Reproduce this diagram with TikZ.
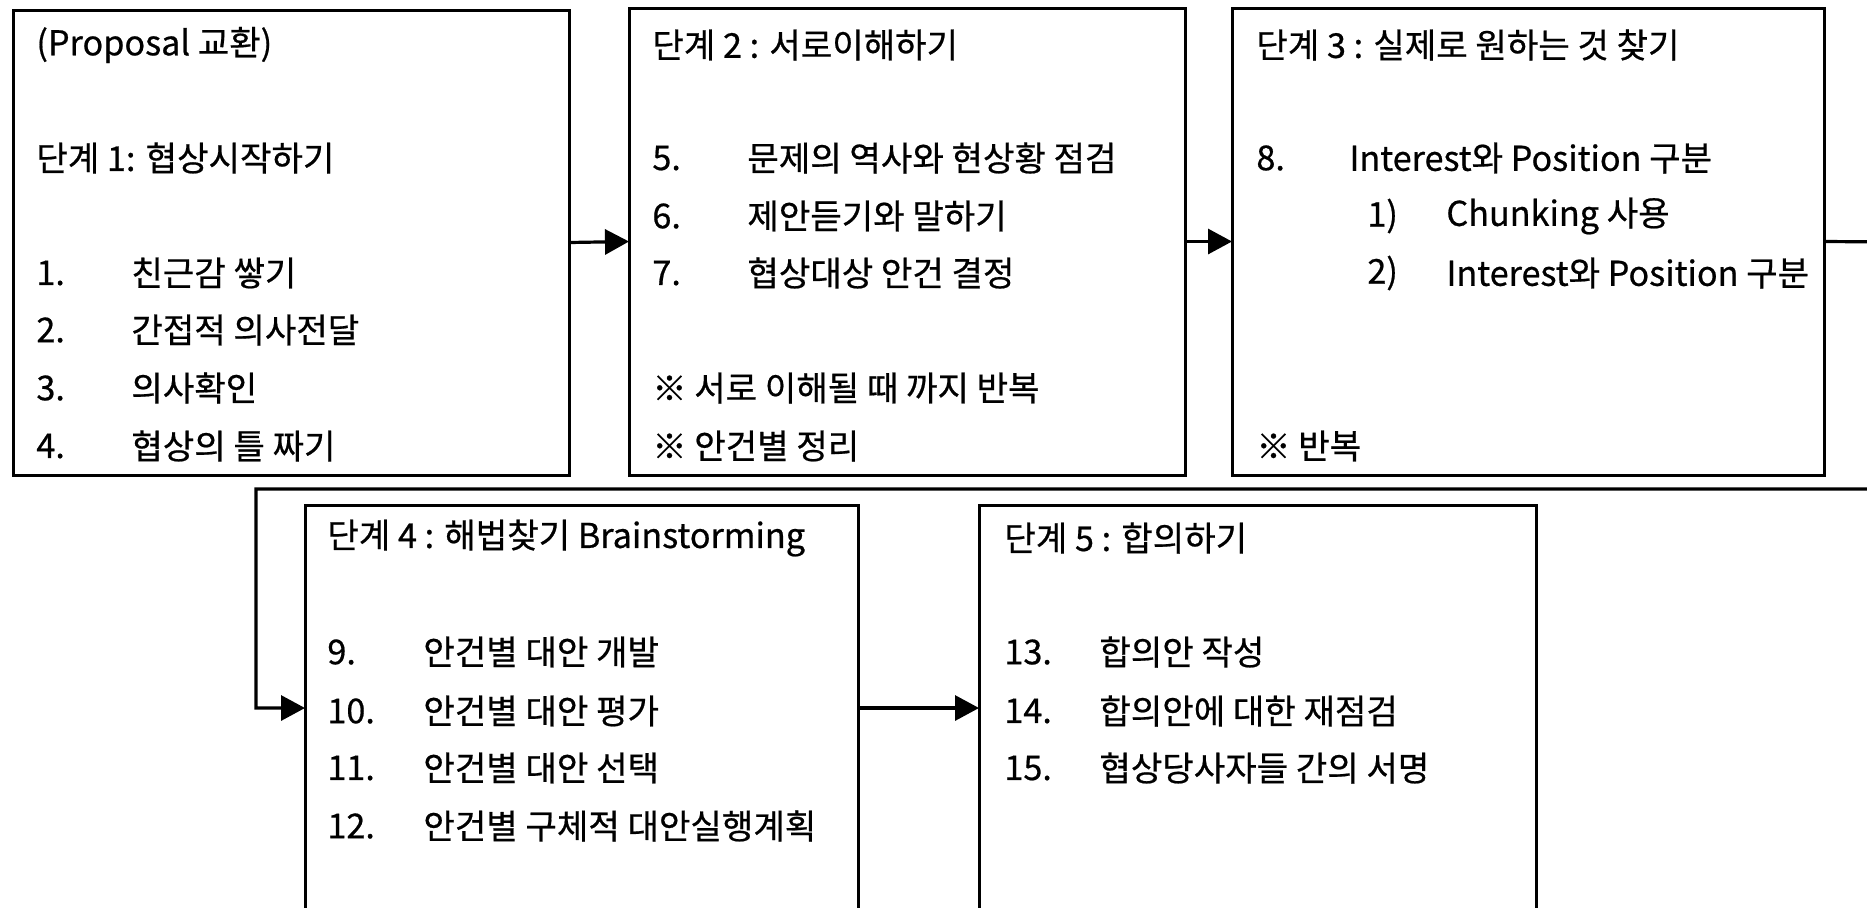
\documentclass[tikz,border=0pt]{standalone}
\usepackage{fontspec}
\setmainfont[FakeBold=0.6]{Noto Sans CJK KR}
\usetikzlibrary{arrows.meta}
\begin{document}
\begin{tikzpicture}[x=0.5pt,y=-0.5pt,
 box/.style={draw,line width=1.5pt,inner sep=0,outer sep=0,anchor=north west},
 txt/.style={anchor=west,inner sep=0,font=\fontsize{17.1pt}{20pt}\selectfont},
 arr/.style={line width=1.6pt,-{Triangle[length=12pt,width=12.5pt]}}]
\useasboundingbox (0,0) rectangle (1867,907);
\clip (0,0) rectangle (1867,907);
\fill[white] (0,0) rectangle (1867,907);
% boxes
\node[box,minimum width=278pt,minimum height=232.5pt] (b1) at (13,10) {};
\node[box,minimum width=278pt,minimum height=233.5pt] (b2) at (629,8) {};
\node[box,minimum width=296pt,minimum height=233.5pt] (b3) at (1232,8) {};
\node[box,minimum width=276.5pt,minimum height=203pt] (b4) at (305,505) {};
\node[box,minimum width=278.5pt,minimum height=203pt] (b5) at (979,505) {};
% box 1 text
\node[txt] (h1a) at (36,45) {(Proposal 교환)};
\node[txt] (h1b) at (36,158) {단계 1: 협상시작하기};
\node[txt] (n1) at (36,273) {1.};
\node[txt] (t1) at (131,273) {친근감 쌓기};
\node[txt] (n2) at (36,330) {2.};
\node[txt] (t2) at (131,330) {간접적 의사전달};
\node[txt] (n3) at (36,388) {3.};
\node[txt] (t3) at (131,388) {의사확인};
\node[txt] (n4) at (36,446) {4.};
\node[txt] (t4) at (131,446) {협상의 틀 짜기};
% box 2 text
\node[txt] (h2) at (652,45) {단계 2 : 서로이해하기};
\node[txt] (n5) at (652,158) {5.};
\node[txt] (t5) at (747,158) {문제의 역사와 현상황 점검};
\node[txt] (n6) at (652,216) {6.};
\node[txt] (t6) at (747,216) {제안듣기와 말하기};
\node[txt] (n7) at (652,273) {7.};
\node[txt] (t7) at (747,273) {협상대상 안건 결정};
\node[txt] (r2a) at (652,388) {※ 서로 이해될 때 까지 반복};
\node[txt] (r2b) at (652,446) {※ 안건별 정리};
% box 3 text
\node[txt] (h3) at (1256,45) {단계 3 : 실제로 원하는 것 찾기};
\node[txt] (n8) at (1256,158) {8.};
\node[txt] (t8) at (1349,158) {Interest와 Position 구분};
\node[txt] (n8a) at (1367,216) {1)};
\node[txt] (t8a) at (1446,216) {Chunking 사용};
\node[txt] (n8b) at (1367,273) {2)};
\node[txt] (t8b) at (1446,273) {Interest와 Position 구분};
\node[txt] (r3) at (1256,446) {※ 반복};
% box 4 text
\node[txt] (h4) at (327,538) {단계 4 : 해법찾기 Brainstorming};
\node[txt] (n9) at (327,652) {9.};
\node[txt] (t9) at (423,652) {안건별 대안 개발};
\node[txt] (n10) at (327,711) {10.};
\node[txt] (t10) at (423,711) {안건별 대안 평가};
\node[txt] (n11) at (327,768) {11.};
\node[txt] (t11) at (423,768) {안건별 대안 선택};
\node[txt] (n12) at (327,826) {12.};
\node[txt] (t12) at (423,826) {안건별 구체적 대안실행계획};
% box 5 text
\node[txt] (h5) at (1004,538) {단계 5 : 합의하기};
\node[txt] (n13) at (1004,652) {13.};
\node[txt] (t13) at (1099,652) {합의안 작성};
\node[txt] (n14) at (1004,711) {14.};
\node[txt] (t14) at (1099,711) {합의안에 대한 재점검};
\node[txt] (n15) at (1004,768) {15.};
\node[txt] (t15) at (1099,768) {협상당사자들 간의 서명};
% connectors
\coordinate (c1) at (1900,242);
\coordinate (c2) at (1900,489);
\coordinate (c3) at (256,489);
\draw[arr] (b1.east) -- (b2.west);
\draw[arr] (b2.east) -- (b3.west);
\draw[arr] (b3.east) -- (c1) -- (c2) -- (c3) |- (b4.west);
\draw[arr] (b4.east) -- (b5.west);
\end{tikzpicture}
\end{document}
